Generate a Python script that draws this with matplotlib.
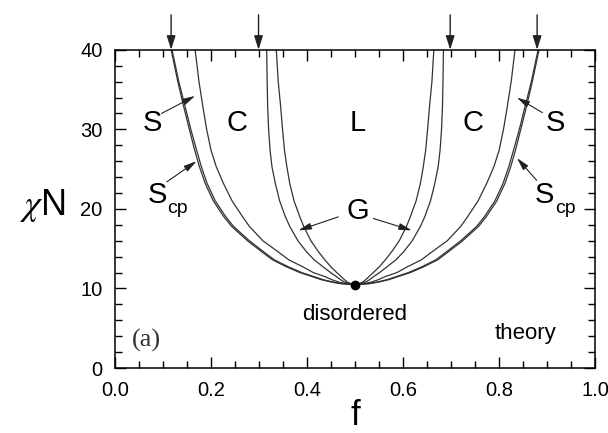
import matplotlib
matplotlib.use("Agg")
import matplotlib.pyplot as plt
from matplotlib.ticker import MultipleLocator

plt.rcParams['font.family'] = ['Liberation Sans', 'DejaVu Sans']
plt.rcParams['mathtext.fontset'] = 'stix'

# phase boundaries, left half (f < 0.5);
# the right half is the mirror image f -> 1-f
chi_n = [10.5, 10.6, 10.8, 11.1, 11.5, 12.0, 12.7, 13.6, 14.6, 16.0,
         17.8, 19.0, 21.0, 23.2, 25.3, 27.4, 30.0, 32.9, 36.0, 40.0]
f_odt = [0.5, 0.471, 0.451, 0.430, 0.410, 0.385, 0.358, 0.328, 0.306, 0.276,
         0.243, 0.227, 0.205, 0.188, 0.176, 0.166, 0.155, 0.143, 0.131, 0.117]
f_scp = [0.5, 0.474, 0.455, 0.434, 0.414, 0.389, 0.362, 0.332, 0.310, 0.280,
         0.247, 0.231, 0.209, 0.192, 0.180, 0.170, 0.158, 0.146, 0.133, 0.119]
f_sc = [0.5, 0.482, 0.466, 0.452, 0.437, 0.413, 0.392, 0.362, 0.340, 0.308,
        0.280, 0.266, 0.244, 0.226, 0.211, 0.200, 0.191, 0.183, 0.175, 0.167]
f_cg = [0.5, 0.489, 0.478, 0.470, 0.461, 0.449, 0.434, 0.415, 0.399, 0.381,
        0.364, 0.355, 0.343, 0.334, 0.327, 0.323, 0.320, 0.318, 0.317, 0.316]
f_gl = [0.5, 0.492, 0.484, 0.478, 0.471, 0.462, 0.450, 0.437, 0.424, 0.408,
        0.393, 0.385, 0.373, 0.364, 0.358, 0.353, 0.349, 0.345, 0.340, 0.336]

crit_f, crit_chi = 0.5, 10.495
top_arrows = [0.117, 0.299, 0.698, 0.879]

fig = plt.figure(figsize=(6.08, 4.33), dpi=100)
ax = fig.add_axes([0.189, 0.150, 0.790, 0.735])

line_kw = dict(color='#333333', lw=0.9)
for fs in [f_odt, f_scp, f_sc, f_cg, f_gl]:
    ax.plot(fs, chi_n, **line_kw)
    ax.plot([1 - v for v in fs], chi_n, **line_kw)

ax.plot([crit_f], [crit_chi], 'o', color='black', ms=6, zorder=5)

# arrows above the frame
for x in top_arrows:
    ax.annotate('', xy=(x, 40), xytext=(x, 44.4), annotation_clip=False,
                arrowprops=dict(arrowstyle='-|>,head_length=0.7,head_width=0.22',
                                mutation_scale=12, color='#222222', lw=1.0,
                                shrinkA=0, shrinkB=0))

# phase labels
lab = dict(fontsize=21, ha='center', va='center')
ax.text(0.078, 30.8, 'S', **lab)
ax.text(0.254, 30.8, 'C', **lab)
ax.text(0.505, 30.8, 'L', **lab)
ax.text(0.746, 30.8, 'C', **lab)
ax.text(0.918, 30.8, 'S', **lab)
ax.text(0.505, 19.7, 'G', **lab)
ax.text(0.0875, 21.8, 'S', **lab)
ax.text(0.131, 20.0, 'cp', fontsize=14, ha='center', va='center')
ax.text(0.894, 21.8, 'S', **lab)
ax.text(0.937, 20.0, 'cp', fontsize=14, ha='center', va='center')

# pointer arrows
ptr = dict(arrowstyle='-|>,head_length=0.7,head_width=0.18', mutation_scale=11,
           color='#222222', lw=0.8, shrinkA=0, shrinkB=0)
pointers = [((0.167, 34.2), (0.097, 32.0)), ((0.170, 26.0), (0.108, 23.4)),
            ((0.837, 34.0), (0.890, 32.1)), ((0.837, 26.4), (0.878, 23.6)),
            ((0.382, 17.3), (0.465, 19.0)), ((0.618, 17.3), (0.538, 18.8))]
for tip, tail in pointers:
    ax.annotate('', xy=tip, xytext=tail, arrowprops=ptr)

ax.text(0.5, 6.1, 'disordered', fontsize=16, ha='center', va='baseline')
ax.text(0.854, 3.65, 'theory', fontsize=16, ha='center', va='baseline')
ax.text(0.066, 3.5, '(a)', fontsize=19, ha='center', va='center',
        family='Liberation Serif', color='#333333')

ax.set_xlim(0, 1)
ax.set_ylim(0, 40)
ax.xaxis.set_minor_locator(MultipleLocator(0.05))
ax.yaxis.set_major_locator(MultipleLocator(10))
ax.yaxis.set_minor_locator(MultipleLocator(2))
ax.set_xticks([0, 0.2, 0.4, 0.6, 0.8, 1.0])
ax.set_xticklabels(['0.0', '0.2', '0.4', '0.6', '0.8', '1.0'])
ax.tick_params(which='both', direction='in', top=True, right=True,
               labelsize=14.5, pad=9, width=1.0)
ax.tick_params(which='major', length=8)
ax.tick_params(which='minor', length=5)
for s in ax.spines.values():
    s.set_linewidth(1.1)

ax.set_ylabel(r'$\chi$N', fontsize=26, rotation=0, va='center', ha='center')
ax.yaxis.set_label_coords(-0.15, 0.51)
ax.set_xlabel('f', fontsize=25, va='center')
ax.xaxis.set_label_coords(0.5, -0.148)

plt.savefig('out.png', dpi=100)
